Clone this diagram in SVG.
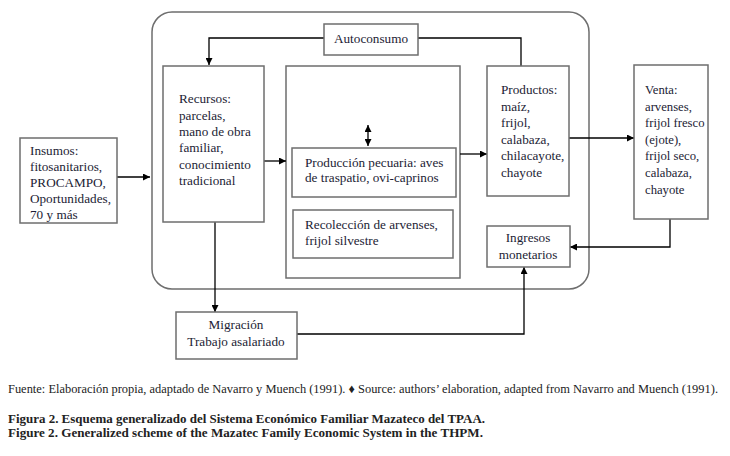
<svg xmlns="http://www.w3.org/2000/svg" width="730" height="456" viewBox="0 0 730 456">
<defs>
<marker id="ah" viewBox="0 0 10 10" refX="10" refY="5" markerWidth="7" markerHeight="7" orient="auto-start-reverse" markerUnits="userSpaceOnUse">
<path d="M0,0 L10,5 L0,10 z" fill="#000"/>
</marker>
<style>
.box{fill:#fff;stroke:#6e6e6e;stroke-width:1.5}
.t{font-family:"Liberation Serif","Times New Roman",serif;font-size:13.2px;fill:#1c1c34}
.s{font-size:12.7px}
.c{text-anchor:middle}
.con{fill:none;stroke:#000;stroke-width:1.3}
.ft{font-family:"Liberation Serif","Times New Roman",serif;font-size:12.5px;fill:#222}
.fb{font-family:"Liberation Serif","Times New Roman",serif;font-size:13px;font-weight:bold;fill:#222}
</style>
</defs>
<rect width="730" height="456" fill="#fff"/>

<g id="outer"><rect x="152" y="12" width="437" height="277" rx="20" ry="20" fill="none" stroke="#6e6e6e" stroke-width="1.5"/></g>
<g id="middle"><rect class="box" x="286" y="66" width="174" height="212"/></g>

<g id="connectors">
<polyline class="con" points="324,38 209,38 209,65" marker-end="url(#ah)"/>
<polyline class="con" points="418,38 521,38 521,66"/>
<line class="con" x1="117" y1="177" x2="150" y2="177" marker-end="url(#ah)"/>
<line class="con" x1="264" y1="161" x2="286" y2="161" marker-end="url(#ah)"/>
<line class="con" x1="368" y1="125" x2="368" y2="146" marker-start="url(#ah)" marker-end="url(#ah)"/>
<line class="con" x1="460" y1="154" x2="487" y2="154" marker-end="url(#ah)"/>
<line class="con" x1="569" y1="138" x2="634" y2="138" marker-end="url(#ah)"/>
<polyline class="con" points="670,219 670,247 570,247" marker-end="url(#ah)"/>
<line class="con" x1="215" y1="222" x2="215" y2="312" marker-end="url(#ah)"/>
<polyline class="con" points="297,334 524,334 524,267" marker-end="url(#ah)"/>
</g>

<g id="autoconsumo">
<rect class="box" x="324" y="24" width="94" height="31"/>
<text class="t c" x="371" y="43">Autoconsumo</text>
</g>

<g id="recursos">
<rect class="box" x="163" y="66" width="101" height="156"/>
<text class="t" x="179" y="103">Recursos:</text>
<text class="t" x="179" y="120">parcelas,</text>
<text class="t" x="179" y="136">mano de obra</text>
<text class="t" x="179" y="152">familiar,</text>
<text class="t" x="179" y="169">conocimiento</text>
<text class="t" x="179" y="185">tradicional</text>
</g>

<g id="insumos">
<rect class="box" x="20" y="138" width="97" height="85"/>
<text class="t" x="30" y="155">Insumos:</text>
<text class="t" x="30" y="171">fitosanitarios,</text>
<text class="t" x="30" y="187">PROCAMPO,</text>
<text class="t" x="30" y="203">Oportunidades,</text>
<text class="t" x="30" y="219">70 y más</text>
</g>

<g id="pecuaria">
<rect class="box" x="292" y="148" width="164" height="49"/>
<text class="t" x="305" y="167">Producción pecuaria: aves</text>
<text class="t" x="305" y="182">de traspatio, ovi-caprinos</text>
</g>

<g id="recoleccion">
<rect class="box" x="293" y="210" width="160" height="48"/>
<text class="t" x="305" y="229">Recolección de arvenses,</text>
<text class="t" x="305" y="245">frijol silvestre</text>
</g>

<g id="productos">
<rect class="box" x="487" y="66" width="82" height="130"/>
<text class="t" x="501" y="94">Productos:</text>
<text class="t" x="501" y="111">maíz,</text>
<text class="t" x="501" y="127">frijol,</text>
<text class="t" x="501" y="144">calabaza,</text>
<text class="t" x="501" y="160">chilacayote,</text>
<text class="t" x="501" y="177">chayote</text>
</g>

<g id="venta">
<rect class="box" x="634" y="65" width="74" height="154"/>
<text class="t s" x="645" y="94">Venta:</text>
<text class="t s" x="645" y="111">arvenses,</text>
<text class="t s" x="645" y="127">frijol fresco</text>
<text class="t s" x="645" y="144">(ejote),</text>
<text class="t s" x="645" y="160">frijol seco,</text>
<text class="t s" x="645" y="177">calabaza,</text>
<text class="t s" x="645" y="194">chayote</text>
</g>

<g id="ingresos">
<rect class="box" x="487" y="226" width="83" height="41"/>
<text class="t c" x="528" y="242">Ingresos</text>
<text class="t c" x="528" y="259">monetarios</text>
</g>

<g id="migracion">
<rect class="box" x="176" y="312" width="121" height="47"/>
<text class="t c" x="236" y="329">Migración</text>
<text class="t c" x="236" y="346">Trabajo asalariado</text>
</g>

<text class="ft" x="8" y="393" textLength="710" lengthAdjust="spacingAndGlyphs">Fuente: Elaboración propia, adaptado de Navarro y Muench (1991). ♦ Source: authors’ elaboration, adapted from Navarro and Muench (1991).</text>
<text class="fb" x="8" y="423" textLength="477" lengthAdjust="spacingAndGlyphs">Figura 2. Esquema generalizado del Sistema Económico Familiar Mazateco del TPAA.</text>
<text class="fb" x="8" y="437" textLength="475" lengthAdjust="spacingAndGlyphs">Figure 2. Generalized scheme of the Mazatec Family Economic System in the THPM.</text>
</svg>
